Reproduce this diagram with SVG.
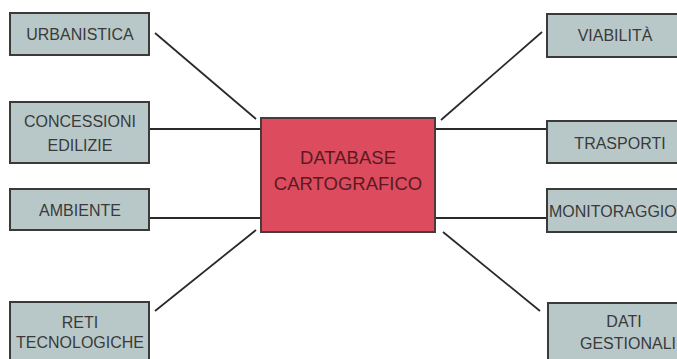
<svg xmlns="http://www.w3.org/2000/svg" width="677" height="359" viewBox="0 0 677 359">
<style>
.box{fill:#b8c8c8;stroke:#3a3a3a;stroke-width:2}
.t{font-family:"Liberation Sans",Arial,sans-serif;font-size:16px;fill:#3a3a3a;text-anchor:middle}
.c{fill:#dc4c5e;stroke:#4a3a3a;stroke-width:2}
.ct{font-family:"Liberation Sans",Arial,sans-serif;font-size:18.5px;fill:#5a1a22;text-anchor:middle}
.ln{stroke:#2a2a2a;stroke-width:1.8;fill:none}
</style>
<rect width="677" height="359" fill="#ffffff"/>
<g id="connectors">
<line class="ln" x1="155" y1="33" x2="256" y2="119"/>
<line class="ln" x1="150" y1="129" x2="261" y2="129"/>
<line class="ln" x1="150" y1="218" x2="261" y2="218"/>
<line class="ln" x1="155" y1="311" x2="256" y2="230"/>
<line class="ln" x1="542" y1="32" x2="441" y2="120"/>
<line class="ln" x1="435" y1="129" x2="547" y2="129"/>
<line class="ln" x1="435" y1="218" x2="547" y2="218"/>
<line class="ln" x1="443" y1="232" x2="540" y2="311"/>
</g>
<g id="center">
<rect class="c" x="261" y="118" width="174" height="114"/>
<text class="ct" x="348" y="164">DATABASE</text>
<text class="ct" x="348" y="190">CARTOGRAFICO</text>
</g>
<g id="urbanistica">
<rect class="box" x="10" y="13" width="139" height="42"/>
<text class="t" x="80" y="40">URBANISTICA</text>
</g>
<g id="concessioni">
<rect class="box" x="10" y="102" width="139" height="61"/>
<text class="t" x="80" y="127">CONCESSIONI</text>
<text class="t" x="80" y="151">EDILIZIE</text>
</g>
<g id="ambiente">
<rect class="box" x="10" y="189" width="139" height="41"/>
<text class="t" x="80" y="216">AMBIENTE</text>
</g>
<g id="reti">
<rect class="box" x="10" y="302" width="139" height="60"/>
<text class="t" x="80" y="328">RETI</text>
<text class="t" x="80" y="348">TECNOLOGICHE</text>
</g>
<g id="viabilita">
<rect class="box" x="547" y="14" width="135" height="43"/>
<text class="t" x="615" y="41">VIABILITÀ</text>
</g>
<g id="trasporti">
<rect class="box" x="547" y="121" width="135" height="42"/>
<text class="t" x="620" y="149">TRASPORTI</text>
</g>
<g id="monitoraggio">
<rect class="box" x="547" y="189" width="135" height="43"/>
<text class="t" x="549" y="217" style="text-anchor:start">MONITORAGGIO</text>
</g>
<g id="dati">
<rect class="box" x="548" y="303" width="135" height="60"/>
<text class="t" x="624" y="327">DATI</text>
<text class="t" x="628" y="349">GESTIONALI</text>
</g>
</svg>
